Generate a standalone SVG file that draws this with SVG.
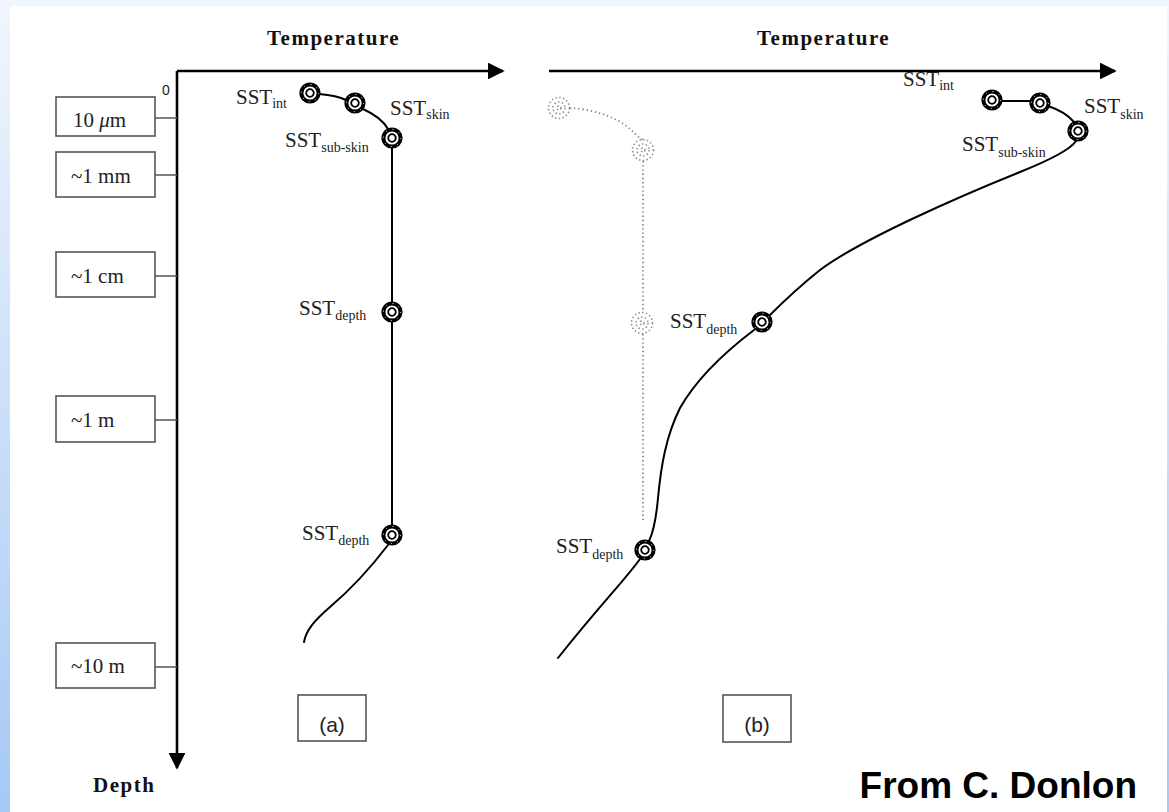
<svg xmlns="http://www.w3.org/2000/svg" width="1169" height="812" viewBox="0 0 1169 812">
  <defs>
    <linearGradient id="bgGrad" x1="0" y1="0" x2="0" y2="1">
      <stop offset="0" stop-color="#f1f6fd"/>
      <stop offset="1" stop-color="#a6c9f5"/>
    </linearGradient>
    <marker id="arrowHead" viewBox="0 0 10 10" refX="9" refY="5" markerWidth="6.5" markerHeight="6.5" markerUnits="strokeWidth" orient="auto">
      <path d="M0,0 L10,5 L0,10 Z" fill="#000"/>
    </marker>
    <g id="probe">
      <circle r="8.6" fill="#fff" stroke="#000" stroke-width="4"/>
      <circle r="8.6" fill="none" stroke="#fff" stroke-width="1" stroke-dasharray="1 5.8"/>
      <circle r="3.8" fill="none" stroke="#000" stroke-width="1.8"/>
    </g>
    <g id="ghost">
      <circle r="10.5" fill="none" stroke="#8a8a8a" stroke-width="1.6" stroke-dasharray="1.4 2.4"/>
      <circle r="6" fill="none" stroke="#8a8a8a" stroke-width="1.6" stroke-dasharray="1.4 2.4"/>
      <circle r="2" fill="none" stroke="#8a8a8a" stroke-width="1.4" stroke-dasharray="1.4 2"/>
    </g>
  </defs>
  <style>
    .axis { fill: none; stroke: #000; stroke-width: 2.6; }
    .tick { fill: none; stroke: #555; stroke-width: 1.6; }
    .curve { fill: none; stroke: #000; stroke-width: 2; stroke-linecap: round; }
    .dotted { fill: none; stroke: #8a8a8a; stroke-width: 1.8; stroke-dasharray: 1.4 2.8; }
    .box { fill: #fff; stroke: #555; stroke-width: 1.6; }
    .lbl { font-family: "Liberation Serif", "Times New Roman", serif; font-size: 21px; fill: #222; }
    .sub { font-size: 14px; }
    .title { font-family: "Liberation Serif", "Times New Roman", serif; font-size: 21px; font-weight: bold; letter-spacing: 1.5px; fill: #111; }
    .tag { font-family: "Liberation Sans", Arial, sans-serif; font-size: 21px; fill: #222; text-anchor: middle; }
  </style>

  <!-- page background -->
  <rect x="0" y="0" width="1169" height="812" fill="url(#bgGrad)"/>
  <rect x="10" y="6" width="1157" height="806" fill="#fff"/>

  <!-- axis titles -->
  <text class="title" x="267" y="45">Temperature</text>
  <text class="title" x="757" y="45">Temperature</text>
  <text class="title" x="93" y="792">Depth</text>
  <text x="162" y="95" font-family="Liberation Sans, Arial, sans-serif" font-size="14" fill="#222">0</text>

  <!-- axes, ticks and profiles -->
  <g id="connectors">
    <path class="axis" d="M177,71 L177,768" marker-end="url(#arrowHead)"/>
    <path class="axis" d="M177,71 L503,71" marker-end="url(#arrowHead)"/>
    <path class="axis" d="M549,71 L1115,71" marker-end="url(#arrowHead)"/>

    <path class="tick" d="M155,118 H177 M155,175 H177 M155,276 H177 M155,420 H177 M155,667 H177"/>

    <!-- profile (a) -->
    <path class="curve" d="M319,94 C330,95 338,96 346,100"/>
    <path class="curve" d="M363,109 C374,114 383,120 388,129"/>
    <path class="curve" stroke-width="2.4" d="M392,147 V303 M392,321 V526"/>
    <path class="curve" stroke-width="2.4" d="M388,545 C372,566 350,590 330,607 C315,620 306,630 304,642"/>

    <!-- ghost profile (b) -->
    <path class="dotted" d="M570,108 C590,109 620,116 636,135 L643,140"/>
    <path class="dotted" d="M643,161 V312 M643,334 V520"/>

    <!-- profile (b) -->
    <path class="curve" d="M1001,101 H1031"/>
    <path class="curve" d="M1048,106 C1060,110 1069,116 1074,122"/>
    <path class="curve" stroke-width="2.4" d="M1076,141 C1070,150 1050,160 1020,172 C960,196 860,240 820,270 C795,290 780,305 770,315"/>
    <path class="curve" stroke-width="2.4" d="M754,330 C725,352 697,378 680,408 C666,436 661,466 658,498 C656,520 653,533 649,541"/>
    <path class="curve" stroke-width="2.4" d="M640,559 C625,580 600,605 558,658"/>
  </g>

  <!-- depth scale boxes -->
  <g id="depth-10um"><rect class="box" x="56" y="97" width="99" height="39"/><text class="lbl" x="73" y="127">10 <tspan font-style="italic">μ</tspan>m</text></g>
  <g id="depth-1mm"><rect class="box" x="56" y="152" width="99" height="45"/><text class="lbl" x="71" y="183">~1 mm</text></g>
  <g id="depth-1cm"><rect class="box" x="56" y="252" width="99" height="45"/><text class="lbl" x="71" y="283">~1 cm</text></g>
  <g id="depth-1m"><rect class="box" x="56" y="396" width="99" height="46"/><text class="lbl" x="71" y="427">~1 m</text></g>
  <g id="depth-10m"><rect class="box" x="56" y="643" width="99" height="45"/><text class="lbl" x="71" y="673">~10 m</text></g>

  <!-- panel tags -->
  <g id="tag-a"><rect class="box" x="298" y="695" width="68" height="46"/><text class="tag" x="332" y="732">(a)</text></g>
  <g id="tag-b"><rect class="box" x="723" y="695" width="68" height="47"/><text class="tag" x="757" y="732">(b)</text></g>

  <!-- panel (a) measurement points -->
  <g id="a-int"><use href="#probe" x="310" y="93"/><text class="lbl" x="236" y="104">SST<tspan class="sub" dy="4">int</tspan></text></g>
  <g id="a-skin"><use href="#probe" x="355" y="103"/><text class="lbl" x="390" y="115">SST<tspan class="sub" dy="4">skin</tspan></text></g>
  <g id="a-subskin"><use href="#probe" x="392" y="138"/><text class="lbl" x="285" y="147">SST<tspan class="sub" dy="5">sub-skin</tspan></text></g>
  <g id="a-depth1"><use href="#probe" x="392" y="312"/><text class="lbl" x="299" y="315">SST<tspan class="sub" dy="5">depth</tspan></text></g>
  <g id="a-depth2"><use href="#probe" x="392" y="535"/><text class="lbl" x="302" y="540">SST<tspan class="sub" dy="5">depth</tspan></text></g>

  <!-- panel (b) ghost points -->
  <g id="b-ghost1"><use href="#ghost" x="559" y="108"/></g>
  <g id="b-ghost2"><use href="#ghost" x="643" y="150"/></g>
  <g id="b-ghost3"><use href="#ghost" x="642" y="323"/></g>

  <!-- panel (b) measurement points -->
  <g id="b-int"><use href="#probe" x="992" y="100"/><text class="lbl" x="903" y="86">SST<tspan class="sub" dy="4">int</tspan></text></g>
  <g id="b-skin"><use href="#probe" x="1040" y="103"/><text class="lbl" x="1084" y="113">SST<tspan class="sub" dy="6">skin</tspan></text></g>
  <g id="b-subskin"><use href="#probe" x="1078" y="131"/><text class="lbl" x="962" y="151">SST<tspan class="sub" dy="6">sub-skin</tspan></text></g>
  <g id="b-depth1"><use href="#probe" x="762" y="322"/><text class="lbl" x="670" y="328">SST<tspan class="sub" dy="6">depth</tspan></text></g>
  <g id="b-depth2"><use href="#probe" x="645" y="550"/><text class="lbl" x="556" y="553">SST<tspan class="sub" dy="6">depth</tspan></text></g>

  <!-- credit -->
  <text x="1137" y="798" text-anchor="end" font-family="Liberation Sans, Arial, sans-serif" font-size="37" font-weight="bold" fill="#000">From C. Donlon</text>
</svg>
